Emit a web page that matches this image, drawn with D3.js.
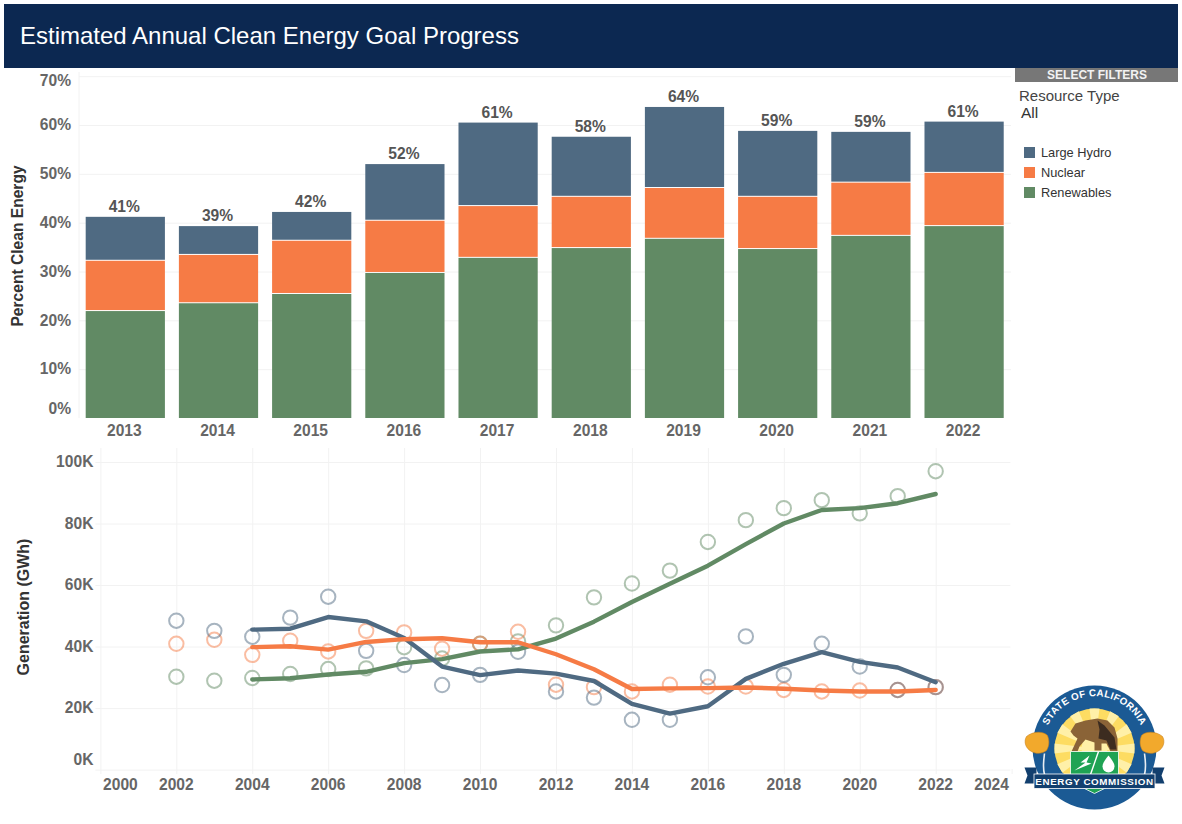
<!DOCTYPE html>
<html>
<head>
<meta charset="utf-8">
<script src="https://cdn.jsdelivr.net/npm/d3@7"></script>
<style>
  html, body { margin: 0; padding: 0; background: #fff; }
  text { font-family: "Liberation Sans", Arial, sans-serif; }
  .tick text { font-size: 15.6px; font-weight: bold; fill: #666; }
  .domain { display: none; }
  .tick line { stroke: #f2f2f2; }
</style>
</head>
<body>
<div id="chart"></div>
<script>
// top chart, percent of retail sales
const goalYears = [2013, 2014, 2015, 2016, 2017, 2018, 2019, 2020, 2021, 2022];
const goalRenewables = [21.9, 23.5, 25.4, 29.7, 32.8, 34.8, 36.7, 34.6, 37.3, 39.3];
const goalNuclear = [10.3, 9.9, 10.9, 10.7, 10.6, 10.5, 10.4, 10.7, 10.9, 10.9];
const goalHydro = [9.0, 5.9, 5.9, 11.6, 17.1, 12.3, 16.6, 13.5, 10.4, 10.5];
const goalLabels = ["41%", "39%", "42%", "52%", "61%", "58%", "64%", "59%", "59%", "61%"];
const percentTicks = [0, 10, 20, 30, 40, 50, 60, 70];

// bottom chart, GWh in thousands
const genYears = [2002, 2003, 2004, 2005, 2006, 2007, 2008, 2009, 2010, 2011, 2012, 2013, 2014, 2015, 2016, 2017, 2018, 2019, 2020, 2021, 2022];
const hydroPoints = [48.4, 45.1, 43.2, 49.4, 56.2, 38.6, 34.0, 27.5, 30.8, 38.3, 25.4, 23.4, 16.2, 16.2, 30.0, 43.3, 30.8, 40.9, 33.5, 25.9, 26.8];
const nuclearPoints = [40.9, 42.2, 37.3, 41.9, 38.4, 45.1, 44.6, 39.3, 40.9, 44.8, 27.6, 26.8, 25.4, 27.6, 27.0, 27.0, 25.9, 25.4, 25.7, 25.9, 26.8];
const renewablePoints = [30.2, 28.9, 29.8, 31.1, 32.7, 32.9, 39.8, 36.1, 40.9, 41.7, 46.9, 56.0, 60.5, 64.7, 74.0, 81.1, 85.0, 87.6, 83.3, 88.9, 97.0];

const avgYears = [2004, 2005, 2006, 2007, 2008, 2009, 2010, 2011, 2012, 2013, 2014, 2015, 2016, 2017, 2018, 2019, 2020, 2021, 2022];
const hydroAvg = [45.5, 45.8, 49.6, 48.2, 42.8, 33.5, 30.7, 32.2, 31.2, 28.8, 21.4, 18.2, 20.6, 29.5, 34.4, 38.2, 35.0, 33.2, 28.4];
const nuclearAvg = [39.8, 40.1, 39.0, 41.5, 42.4, 42.7, 41.4, 41.4, 37.5, 32.6, 26.2, 26.4, 26.5, 26.7, 26.3, 25.7, 25.4, 25.4, 25.9];
const renewableAvg = [29.3, 29.7, 30.9, 31.8, 34.6, 35.9, 38.4, 39.1, 42.6, 48.1, 54.5, 60.4, 66.3, 73.3, 80.0, 84.4, 85.0, 86.6, 89.6];
const genTicks = [0, 20, 40, 60, 80, 100];
const yearTicks = [2000, 2002, 2004, 2006, 2008, 2010, 2012, 2014, 2016, 2018, 2020, 2022, 2024];

const resourceNames = ["Large Hydro", "Nuclear", "Renewables"];
const resourceColors = ["#4f6a82", "#f67b45", "#618a64"];
const color = d3.scaleOrdinal().domain(resourceNames).range(resourceColors);

const svg = d3.select("#chart").append("svg")
    .attr("width", 1182)
    .attr("height", 824)
    .style("display", "block");

// header
svg.append("rect").attr("x", 4).attr("y", 4).attr("width", 1174).attr("height", 64).attr("fill", "#0c2851");
svg.append("text").attr("x", 20).attr("y", 44)
    .style("font-size", "24px").attr("fill", "#fff")
    .text("Estimated Annual Clean Energy Goal Progress");

// stacked bars
const x = d3.scaleBand().domain(goalYears).range([78.7, 1010.7]).paddingInner(0.15).paddingOuter(0.075);
const y = d3.scaleLinear().domain([0, 70]).range([418, 76.2]);

svg.append("g").attr("transform", "translate(79,0)")
    .call(d3.axisLeft(y).tickValues(percentTicks).tickSize(-932).tickPadding(8).tickFormat(d => d + "%"))
    .call(g => g.selectAll(".tick line").filter(d => d === 0).remove())
    .call(g => g.selectAll(".tick text")
        .attr("dy", d => d === 0 ? "-0.3em" : d === 70 ? "0.6em" : "0.3em"));
svg.append("line").attr("x1", 79).attr("x2", 79).attr("y1", 72).attr("y2", 418).attr("stroke", "#f2f2f2");

const goalRows = goalYears.map((year, i) => ({
    year,
    "Renewables": goalRenewables[i],
    "Nuclear": goalNuclear[i],
    "Large Hydro": goalHydro[i]
}));
const stack = d3.stack().keys(["Renewables", "Nuclear", "Large Hydro"]);
const layers = stack(goalRows);

svg.append("g").selectAll("g")
    .data(layers)
    .enter().append("g")
    .attr("fill", d => color(d.key))
    .selectAll("rect")
    .data(d => d)
    .enter().append("rect")
    .attr("x", d => x(d.data.year))
    .attr("width", x.bandwidth())
    .attr("y", d => y(d[1]))
    .attr("height", d => y(d[0]) - y(d[1]) - (d[0] > 0 ? 1 : 0));

const topLayer = layers[layers.length - 1];
svg.append("g").selectAll("text")
    .data(topLayer)
    .enter().append("text")
    .attr("x", d => x(d.data.year) + x.bandwidth() / 2 - 1)
    .attr("y", d => y(d[1]) - 5)
    .attr("text-anchor", "middle")
    .style("font-size", "15.6px").style("font-weight", "bold").attr("fill", "#555")
    .text((d, i) => goalLabels[i]);

svg.append("g").attr("transform", "translate(-1,418)")
    .call(d3.axisBottom(x).tickSize(0).tickPadding(7));

svg.append("text")
    .attr("transform", "translate(23,246) rotate(-90)")
    .attr("text-anchor", "middle")
    .style("font-size", "15.6px").style("font-weight", "bold").attr("fill", "#333")
    .text("Percent Clean Energy");

// generation chart
const xGen = d3.scaleLinear().domain([2000, 2024]).range([100.4, 1011.6]);
const yGen = d3.scaleLinear().domain([0, 100]).range([769.6, 462]);

svg.append("g").attr("transform", "translate(100.4,0)")
    .call(d3.axisLeft(yGen).tickValues(genTicks).tickSize(-910).tickPadding(6).tickFormat(d => d + "K"))
    .call(g => g.selectAll(".tick line").attr("x1", -5))
    .call(g => g.selectAll(".tick text").attr("x", -7)
        .attr("dy", d => d === 0 ? "-0.3em" : "0.3em"));

svg.append("g").attr("transform", "translate(0,774)")
    .call(d3.axisBottom(xGen).tickValues(yearTicks).tickSize(-326).tickPadding(5).tickFormat(d3.format("d")))
    .call(g => g.selectAll(".tick line").filter(d => d === 2024).attr("y2", -5))
    // end labels sit inside the plot like the original
    .call(g => g.selectAll(".tick text")
        .attr("dx", d => d === 2000 ? 19.5 : d === 2024 ? -20.5 : -0.5));

svg.append("text")
    .attr("transform", "translate(29,607) rotate(-90)")
    .attr("text-anchor", "middle")
    .style("font-size", "16px").style("font-weight", "bold").attr("fill", "#333")
    .text("Generation (GWh)");

const pointSeries = [
    { name: "Renewables", values: renewablePoints },
    { name: "Nuclear", values: nuclearPoints },
    { name: "Large Hydro", values: hydroPoints }
];
pointSeries.forEach(s => {
    svg.append("g").selectAll("circle")
        .data(s.values)
        .enter().append("circle")
        .attr("cx", (d, i) => xGen(genYears[i]))
        .attr("cy", d => yGen(d))
        .attr("r", 7.2)
        .attr("fill", "none")
        .attr("stroke", color(s.name))
        .attr("stroke-width", 2)
        .attr("stroke-opacity", 0.5);
});

const line = d3.line().x((d, i) => xGen(avgYears[i])).y(d => yGen(d));
const lineSeries = [
    { name: "Renewables", values: renewableAvg },
    { name: "Large Hydro", values: hydroAvg },
    { name: "Nuclear", values: nuclearAvg }
];
svg.append("g").selectAll("path")
    .data(lineSeries)
    .enter().append("path")
    .attr("d", d => line(d.values))
    .attr("fill", "none")
    .attr("stroke", d => color(d.name))
    .attr("stroke-width", 4.4)
    .attr("stroke-linecap", "round")
    .attr("stroke-linejoin", "round");

// filter panel and legend
svg.append("rect").attr("x", 1015).attr("y", 68).attr("width", 163).attr("height", 14).attr("fill", "#777");
svg.append("text").attr("x", 1097).attr("y", 79).attr("text-anchor", "middle")
    .style("font-size", "12px").style("font-weight", "bold").attr("fill", "#f2f2f2")
    .text("SELECT FILTERS");
svg.append("text").attr("x", 1019).attr("y", 101).style("font-size", "15px").attr("fill", "#444").text("Resource Type");
svg.append("text").attr("x", 1021).attr("y", 118).style("font-size", "15.5px").attr("fill", "#333").text("All");

const legend = svg.append("g").selectAll("g")
    .data(resourceNames)
    .enter().append("g")
    .attr("transform", (d, i) => `translate(1024, ${147 + i * 20})`);
legend.append("rect").attr("width", 11).attr("height", 11).attr("fill", d => color(d));
legend.append("text").attr("x", 17).attr("y", 10)
    .style("font-size", "12.8px").attr("fill", "#333")
    .text(d => d);

// energy commission seal
const seal = svg.append("g").attr("transform", "translate(1094.5,747.5)");
const defs = svg.append("defs");
defs.append("path").attr("id", "sealArc").attr("d", "M-46.5,-22 A51.5,51.5 0 0 1 46.5,-22");

seal.append("circle").attr("r", 62).attr("fill", "#1b5a94");
seal.append("circle").attr("cy", 1).attr("r", 40).attr("fill", "#fddc62");
seal.append("g").selectAll("path")
    .data(d3.range(0, 360, 30))
    .enter().append("path")
    .attr("d", "M0,0 L-5,-40 L5,-40 Z")
    .attr("transform", d => `translate(0,1) rotate(${d})`)
    .attr("fill", "#fff0a8");
seal.append("circle").attr("cy", 1).attr("r", 13).attr("fill", "#fff0a8");

seal.append("text")
    .style("font-size", "9.8px").style("font-weight", "bold").style("letter-spacing", "0.3px")
    .attr("fill", "#fff")
    .append("textPath").attr("href", "#sealArc").attr("startOffset", "50%").attr("text-anchor", "middle")
    .text("STATE OF CALIFORNIA");

// poppies with stems
[-1, 1].forEach(side => {
    const p = seal.append("g").attr("transform", `scale(${side},1)`);
    p.append("path").attr("d", "M50,6 C51,14 52,20 50,27").attr("fill", "none").attr("stroke", "#e8edf2").attr("stroke-width", 1.6);
    p.append("path")
        .attr("d", "M47,-12 C52,-17 62,-16 68,-11 C71,-6 69,1 63,4 C58,7 52,6 48,3 C45,-2 45,-7 47,-12 Z")
        .attr("fill", "#f2a92c").attr("stroke", "#c9821a").attr("stroke-width", 0.6);
});

// bear
seal.append("path")
    .attr("d", "M-21,-12 L-24,-16 L-19,-24 L-9,-27 L3,-29 L13,-27 L20,-20 L23,-9 L23,4 L16,4 L12,-4 L7,-4 L7,3 L0,3 L0,-5 L-9,-8 L-15,-1 L-17,4 L-23,4 L-17,-9 Z")
    .attr("fill", "#8a6337");
seal.append("path")
    .attr("d", "M3,-27 L10,-22 L20,-10 L22,2 L16,2 L12,-7 L4,-9 L5,-18 Z")
    .attr("fill", "#3c2c20");

// shield
seal.append("path")
    .attr("d", "M-24,4 L24,4 L24,34 L0,46 L-24,34 Z")
    .attr("fill", "#1fa354").attr("stroke", "#fff").attr("stroke-width", 0.8);
seal.append("path").attr("d", "M4,4 L-4,27").attr("stroke", "#fff").attr("stroke-width", 1.4);
seal.append("path").attr("d", "M-5,8 L-14,15 L-9,15 L-20,23 L-3,16 L-8,15 Z").attr("fill", "#fff");
seal.append("path").attr("d", "M14,8 C10,13 8,16 8,19 A6,6 0 0 0 20,19 C20,16 18,13 14,8 Z").attr("fill", "#fff");

// ribbon
[-1, 1].forEach(side => {
    seal.append("path")
        .attr("transform", `scale(${side},1)`)
        .attr("d", "M58,20 L70,20 L67,28 L70,36 L58,36 Z")
        .attr("fill", "#123f6e");
});
seal.append("rect").attr("x", -60.5).attr("y", 26.5).attr("width", 121).attr("height", 14.5).attr("fill", "#123f6e").attr("stroke", "#fff").attr("stroke-width", 0.8);
seal.append("text").attr("y", 37.5).attr("text-anchor", "middle")
    .style("font-size", "9.8px").style("font-weight", "bold").style("letter-spacing", "0.6px")
    .attr("fill", "#fff")
    .text("ENERGY COMMISSION");
</script>
</body>
</html>
